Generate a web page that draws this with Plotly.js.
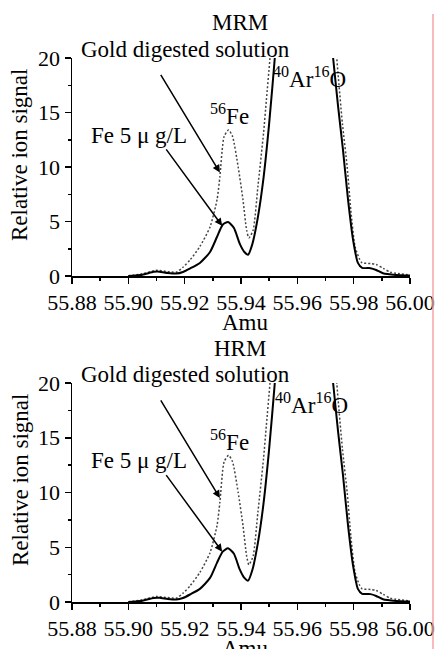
<!DOCTYPE html>
<html>
<head>
<meta charset="utf-8">
<script src="https://cdn.plot.ly/plotly-3.0.1.min.js"></script>
<style>html,body{margin:0;padding:0;background:#fff;}#chart{width:436px;height:649px;}</style>
</head>
<body>
<div id="chart"></div>
<script>
// ---- Data ----
const panelTitles = ["MRM", "HRM"];
const xTickVals = [55.88, 55.90, 55.92, 55.94, 55.96, 55.98, 56.00];
const xTickText = ["55.88", "55.90", "55.92", "55.94", "55.96", "55.98", "56.00"];
const yTickVals = [0, 5, 10, 15, 20];
const yTickText = ["0", "5", "10", "15", "20"];
const seriesNames = ["Fe 5 μ g/L", "Gold digested solution"];

// MRM, Fe 5 ug/L (solid)
const mrmFeAmu = [55.900, 55.905, 55.909, 55.911, 55.914, 55.917, 55.9194, 55.922, 55.9254, 55.929, 55.9315, 55.9335, 55.9354, 55.9375, 55.9395, 55.9412, 55.9425, 55.944, 55.946, 55.948, 55.950, 55.952, 55.955, 55.962, 55.968, 55.9705, 55.9727, 55.9745, 55.9762, 55.978, 55.9798, 55.9815, 55.983, 55.986, 55.988, 55.9904, 55.995, 56.000];
const mrmFeSig = [0.0, 0.12, 0.38, 0.4, 0.28, 0.22, 0.37, 0.7, 1.2, 2.2, 3.6, 4.7, 4.95, 4.4, 3.0, 2.2, 1.95, 2.9, 5.4, 9.0, 14.0, 20.0, 30, 45, 40, 26, 20.0, 15.5, 11.6, 7.0, 3.3, 1.2, 0.75, 0.72, 0.55, 0.25, 0.1, 0.05];
// MRM, gold digested solution (dotted)
const mrmAuAmu = [55.900, 55.905, 55.910, 55.914, 55.917, 55.9194, 55.922, 55.9254, 55.929, 55.9315, 55.9325, 55.934, 55.9356, 55.937, 55.939, 55.9407, 55.942, 55.9428, 55.9443, 55.946, 55.948, 55.949, 55.9503, 55.953, 55.960, 55.968, 55.972, 55.974, 55.976, 55.9777, 55.979, 55.9805, 55.982, 55.983, 55.986, 55.988, 55.9905, 55.993, 55.995, 56.000];
const mrmAuSig = [0.02, 0.2, 0.52, 0.4, 0.35, 0.8, 1.5, 2.7, 4.5, 7.0, 9.1, 12.8, 13.4, 12.8, 10.0, 7.0, 4.2, 3.5, 4.2, 8.2, 13.1, 16.1, 20.0, 28, 50, 50, 28, 20.0, 14.0, 10.0, 6.0, 2.7, 1.6, 1.2, 1.15, 1.05, 0.7, 0.35, 0.25, 0.1];

// HRM, Fe 5 ug/L (solid)
const hrmFeAmu = [55.900, 55.905, 55.909, 55.911, 55.914, 55.917, 55.9194, 55.922, 55.9254, 55.929, 55.9315, 55.9335, 55.9354, 55.9375, 55.9395, 55.9412, 55.9425, 55.944, 55.946, 55.948, 55.950, 55.952, 55.955, 55.962, 55.968, 55.9705, 55.9727, 55.9745, 55.9762, 55.978, 55.9798, 55.9815, 55.983, 55.986, 55.988, 55.9904, 55.995, 56.000];
const hrmFeSig = [0.0, 0.12, 0.36, 0.38, 0.27, 0.22, 0.36, 0.7, 1.2, 2.2, 3.6, 4.6, 4.9, 4.4, 3.0, 2.2, 1.95, 2.9, 5.4, 9.0, 14.0, 20.0, 30, 45, 40, 26, 20.0, 15.5, 11.6, 7.0, 3.3, 1.2, 0.75, 0.72, 0.55, 0.25, 0.1, 0.05];
// HRM, gold digested solution (dotted)
const hrmAuAmu = [55.900, 55.905, 55.910, 55.914, 55.917, 55.9194, 55.922, 55.9254, 55.929, 55.9315, 55.9325, 55.934, 55.9356, 55.937, 55.939, 55.9407, 55.942, 55.9428, 55.9443, 55.946, 55.948, 55.949, 55.9503, 55.953, 55.960, 55.968, 55.972, 55.974, 55.976, 55.9777, 55.979, 55.9805, 55.982, 55.983, 55.986, 55.988, 55.9905, 55.993, 55.995, 56.000];
const hrmAuSig = [0.02, 0.2, 0.5, 0.4, 0.35, 0.8, 1.5, 2.7, 4.5, 7.0, 9.1, 12.8, 13.4, 12.8, 10.0, 7.0, 4.2, 3.4, 4.2, 8.2, 13.1, 16.1, 20.0, 28, 50, 50, 28, 20.0, 14.0, 10.0, 6.0, 2.7, 1.6, 1.2, 1.15, 1.05, 0.7, 0.35, 0.25, 0.1];

// arrow targets (amu, signal) for each panel
const arrowAuTarget = [55.9325, 9.5];
const arrowFeTarget = [55.9333, 4.6];

// ---- Layout helpers ----
const W = 436, H = 649;
const FONT = "'Liberation Serif', 'Times New Roman', serif";
const px = v => v / W;
const py = v => 1 - v / H;

const solidLine = {color: "#000", width: 2, shape: "spline", smoothing: 0.6};
const dotLine = {color: "#444", width: 1.5, dash: "2px,2px", shape: "spline", smoothing: 0.6};

const traces = [
  {x: mrmAuAmu, y: mrmAuSig, xaxis: "x", yaxis: "y", mode: "lines", line: dotLine, name: seriesNames[1]},
  {x: mrmFeAmu, y: mrmFeSig, xaxis: "x", yaxis: "y", mode: "lines", line: solidLine, name: seriesNames[0]},
  {x: hrmAuAmu, y: hrmAuSig, xaxis: "x2", yaxis: "y2", mode: "lines", line: dotLine, name: seriesNames[1]},
  {x: hrmFeAmu, y: hrmFeSig, xaxis: "x2", yaxis: "y2", mode: "lines", line: solidLine, name: seriesNames[0]}
];

function xAxis(anchor) {
  return {
    domain: [px(72), px(410)], range: [55.88, 56.00], anchor: anchor,
    tickmode: "array", tickvals: xTickVals, ticktext: xTickText,
    ticks: "outside", ticklen: 6, tickwidth: 1.5, tickcolor: "#000",
    minor: {dtick: 0.01, tick0: 55.88, ticks: "outside", ticklen: 3, tickwidth: 1.5, tickcolor: "#000"},
    showline: true, linecolor: "#000", linewidth: 1.5,
    showgrid: false, zeroline: false, fixedrange: true,
    tickfont: {family: FONT, size: 22, color: "#000"}
  };
}
function yAxis(anchor, top, bottom) {
  return {
    domain: [py(bottom), py(top)], range: [0, 20], anchor: anchor,
    tickmode: "array", tickvals: yTickVals, ticktext: yTickText,
    ticks: "outside", ticklen: 6, tickwidth: 1.5, tickcolor: "#000",
    minor: {dtick: 2.5, tick0: 0, ticks: "outside", ticklen: 3, tickwidth: 1.5, tickcolor: "#000"},
    showline: true, linecolor: "#000", linewidth: 1.5,
    showgrid: false, zeroline: false, fixedrange: true,
    tickfont: {family: FONT, size: 22, color: "#000"}
  };
}

const annotations = [];
const offsets = [0, 325];
offsets.forEach((dy, i) => {
  const xr = i === 0 ? "x" : "x2", yr = i === 0 ? "y" : "y2";
  const f = {family: FONT, size: 23, color: "#000"};
  const txt = (text, x, y, extra) => Object.assign({text: text, xref: "paper", yref: "paper", x: px(x), y: py(y + dy),
    xanchor: "center", yanchor: "middle", showarrow: false, font: f}, extra || {});
  annotations.push(txt(panelTitles[i], 240, 23));
  annotations.push(txt(seriesNames[1], 185, 49));
  annotations.push(txt(seriesNames[0], 139, 135));
  annotations.push(txt("<sup>56</sup>Fe", 230, 115));
  annotations.push(txt("<sup>40</sup>Ar<sup>16</sup>O", 309 + 2 * i, 78));
  annotations.push(txt("Amu", 245, 323));
  annotations.push(txt("Relative ion signal", 20, 155, {textangle: -90}));
  annotations.push({text: "", xref: xr, yref: yr, x: arrowAuTarget[0], y: arrowAuTarget[1],
    ax: -60, ay: -99, showarrow: true, arrowhead: 2, arrowsize: 1, arrowwidth: 1.5, arrowcolor: "#000", standoff: 0});
  annotations.push({text: "", xref: xr, yref: yr, x: arrowFeTarget[0], y: arrowFeTarget[1],
    ax: -57, ay: -78, showarrow: true, arrowhead: 2, arrowsize: 1, arrowwidth: 1.5, arrowcolor: "#000", standoff: 0});
});

const layout = {
  width: W, height: H,
  margin: {l: 0, r: 0, t: 0, b: 0, pad: 0},
  paper_bgcolor: "#fff", plot_bgcolor: "rgba(0,0,0,0)",
  showlegend: false,
  font: {family: FONT, size: 22, color: "#000"},
  xaxis: xAxis("y"),
  yaxis: yAxis("x", 58, 276),
  xaxis2: xAxis("y2"),
  yaxis2: yAxis("x2", 383, 602),
  annotations: annotations,
  shapes: [{type: "line", xref: "paper", yref: "paper", x0: px(433), x1: px(433), y0: 0, y1: py(14),
    line: {color: "#f6a3a3", width: 1.5}}]
};

Plotly.newPlot("chart", traces, layout, {staticPlot: true, displayModeBar: false});
</script>
</body>
</html>
